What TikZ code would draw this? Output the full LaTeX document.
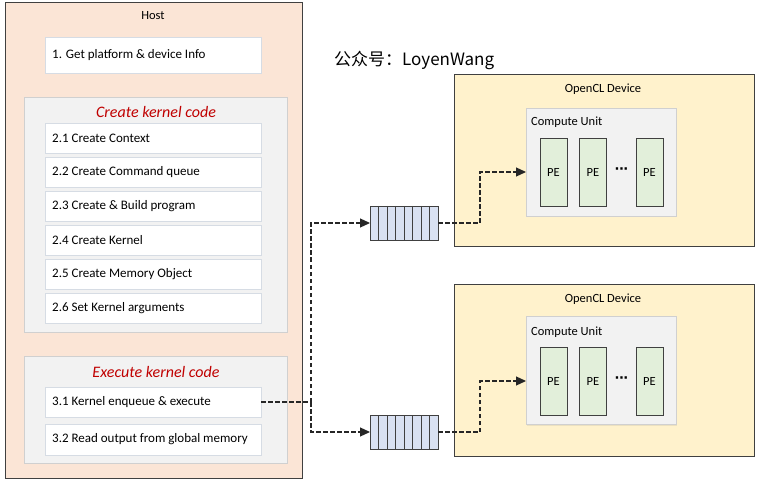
\documentclass[tikz,border=0pt]{standalone}
\usepackage{fontspec}
\setmainfont{Carlito}
\newfontfamily\cjkfont{Noto Sans CJK SC}
\newfontfamily\dejavubold{DejaVu Sans Bold}
\usetikzlibrary{arrows.meta,shadows,calc}
\definecolor{hostfill}{HTML}{FBE5D6}
\definecolor{devfill}{HTML}{FFF2CC}
\definecolor{panelfill}{HTML}{F2F2F2}
\definecolor{panelline}{HTML}{D0D0D0}
\definecolor{itemline}{HTML}{D6DCE4}
\definecolor{pefill}{HTML}{E2EFDA}
\definecolor{qfill}{HTML}{D9E1F2}
\definecolor{darkline}{HTML}{404040}
\definecolor{titlered}{HTML}{C00000}
\definecolor{connline}{HTML}{262626}
\tikzset{
  box/.style={rectangle, inner sep=0pt, outer sep=0pt},
  hostbox/.style={box, draw=darkline, fill=hostfill, line width=1pt},
  devbox/.style={box, draw=darkline, fill=devfill, line width=1pt},
  panel/.style={box, draw=panelline, fill=panelfill, line width=0.8pt,
    drop shadow={opacity=0.15, shadow xshift=1pt, shadow yshift=-1pt}},
  item/.style={box, draw=itemline, fill=white, line width=0.8pt,
    minimum width=216pt, minimum height=30pt,
    drop shadow={opacity=0.15, shadow xshift=1pt, shadow yshift=-1pt}},
  itemtext/.style={anchor=west, inner sep=0pt, font=\fontsize{13}{15}\selectfont},
  lbl/.style={inner sep=0pt, font=\fontsize{12.5}{14}\selectfont},
  ptitle/.style={inner sep=0pt, text=titlered, font=\fontsize{16}{18}\selectfont\itshape},
  pebox/.style={box, draw=darkline, fill=pefill, line width=0.9pt,
    minimum width=27pt, minimum height=68pt, font=\fontsize{12.5}{14}\selectfont},
  qbox/.style={box, draw=darkline, fill=qfill, line width=0.9pt,
    minimum width=68pt, minimum height=34pt},
  conn/.style={draw=connline, line width=1.2pt, dash pattern=on 4.5pt off 2.5pt},
  arr/.style={conn, -{Triangle[length=10pt,width=9pt]}}
}
\begin{document}
\begin{tikzpicture}[x=1pt,y=-1pt]
\useasboundingbox (0,0) rectangle (757,486);
% Host
\node[hostbox, minimum width=297pt, minimum height=475pt] (host) at (153.5,240.5) {};
\node[lbl] (hostlbl) at (153,16) {Host};
\node[item, minimum height=36pt] (s1) at (153,55) {};
\node[itemtext] (s1t) at (52,55) {1. Get platform \& device Info};
% Create kernel code panel
\node[panel, minimum width=263pt, minimum height=235pt] (create) at (155.5,214.5) {};
\node[ptitle] (createt) at (156,112) {Create kernel code};
\node[item] (s21) at (153,138) {};
\node[itemtext] (s21t) at (52,138) {2.1 Create Context};
\node[item] (s22) at (153,172) {};
\node[itemtext] (s22t) at (52,172) {2.2 Create Command queue};
\node[item] (s23) at (153,206) {};
\node[itemtext] (s23t) at (52,206) {2.3 Create \& Build program};
\node[item] (s24) at (153,240) {};
\node[itemtext] (s24t) at (52,240) {2.4 Create Kernel};
\node[item] (s25) at (153,274) {};
\node[itemtext] (s25t) at (52,274) {2.5 Create Memory Object};
\node[item] (s26) at (153,308) {};
\node[itemtext] (s26t) at (52,308) {2.6 Set Kernel arguments};
% Execute kernel code panel
\node[panel, minimum width=263pt, minimum height=107pt] (exec) at (155.5,409.5) {};
\node[ptitle] (exect) at (156,372) {Execute kernel code};
\node[item] (s31) at (153,402) {};
\node[itemtext] (s31t) at (52,402) {3.1 Kernel enqueue \& execute};
\node[item, minimum height=31pt] (s32) at (153,439.5) {};
\node[itemtext] (s32t) at (52,439.5) {3.2 Read output from global memory};
% watermark
\node[inner sep=0pt, anchor=west, font=\fontsize{17}{20}\selectfont\cjkfont] (wm) at (334,60) {公众号：LoyenWang};
% Devices
\foreach \n/\cy/\ly/\cuy/\cul/\pey in {1/161/89/162/122/172, 2/370/299/370.5/332/381}{
  \node[devbox, minimum width=300pt, minimum height=172pt] (dev\n) at (604,\cy) {};
  \node[lbl] (devlbl\n) at (603,\ly) {OpenCL Device};
  \node[panel, minimum width=150pt, minimum height=108pt] (cu\n) at (601,\cuy) {};
  \node[lbl, anchor=west] (culbl\n) at (531,\cul) {Compute Unit};
  \node[pebox] (pea\n) at (553.5,\pey) {PE};
  \node[pebox] (peb\n) at (593,\pey) {PE};
  \node[pebox] (pec\n) at (649.5,\pey) {PE};
  \node[inner sep=0pt, font=\fontsize{13}{15}\dejavubold] (dots\n) at (621.5,\pey-1) {·\kern-0.5pt·\kern-0.5pt·};
}
% Queues
\foreach \n/\qy in {1/223, 2/432}{
  \node[qbox] (q\n) at (404,\qy) {};
  \foreach \i in {1,...,7}{
    \draw[darkline, line width=0.9pt] ($(q\n.north west)+(8.5*\i,0)$) -- ($(q\n.south west)+(8.5*\i,0)$);
  }
}
% Connectors
\coordinate (j) at (311,402);
\draw[conn] (s31.east) -- (j);
\draw[arr] (j) |- (q1.west);
\draw[arr] (j) |- (q2.west);
\coordinate (k1) at (480,223);
\coordinate (k2) at (480,432);
\draw[arr] (q1.east) -- (k1) |- (cu1.west |- pea1.center);
\draw[arr] (q2.east) -- (k2) |- (cu2.west |- pea2.center);
\end{tikzpicture}
\end{document}
